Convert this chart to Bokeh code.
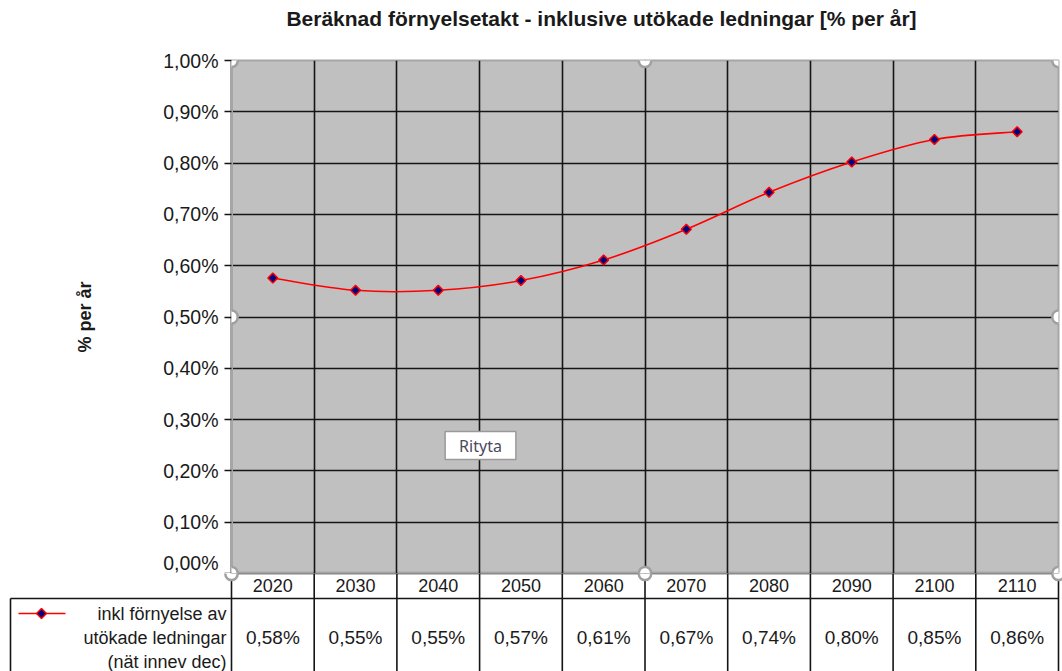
import numpy as np
from bokeh.plotting import figure
from bokeh.models import Range1d, FixedTicker, Grid, Label, CustomJSTickFormatter
from bokeh.layouts import column
from bokeh.embed import file_html
from bokeh.resources import INLINE
from bokeh.core.properties import value

# ---------------- data ----------------
years = [2020, 2030, 2040, 2050, 2060, 2070, 2080, 2090, 2100, 2110]
rate = [0.576, 0.552, 0.552, 0.571, 0.611, 0.671, 0.743, 0.802, 0.846, 0.861]
y_ticks = [0.0, 0.1, 0.2, 0.3, 0.4, 0.5, 0.6, 0.7, 0.8, 0.9, 1.0]
y_tick_labels = ["0,00%", "0,10%", "0,20%", "0,30%", "0,40%", "0,50%",
                 "0,60%", "0,70%", "0,80%", "0,90%", "1,00%"]
year_labels = [str(y) for y in years]
table_labels = [f"{v:.2f}".replace(".", ",") + "%" for v in rate]
series_lines = ["inkl förnyelse av", "utökade ledningar", "(nät innev dec)"]
title_text = "Beräknad förnyelsetakt - inklusive utökade ledningar [% per år]"
y_label = "% per år"

FONT = "Liberation Sans"
TXT = "#1a1a1a"
LINE = "#151515"

# ---------------- geometry ----------------
W = 1062
H0 = 40          # title strip
H1 = 533         # chart (frame top at 20 inside this figure)
H2 = 98          # data table
LEFT = 231
RIGHT = 4
TOP = 20
FRAME_W = W - LEFT - RIGHT
FRAME_H = H1 - TOP

x_start = years[0] - 5
x_end = years[-1] + 5
x_mid = (x_start + x_end) / 2
bounds = [y - 5 for y in years] + [x_end]
xpp = (x_end - x_start) / FRAME_W      # data units per pixel (x)
t_start = x_start - LEFT * xpp
t_end = x_end + RIGHT * xpp


def tx(px):
    return t_start + px * xpp


def bare(fig):
    fig.frame_align = False
    fig.outline_line_color = None
    fig.background_fill_color = "white"
    fig.border_fill_color = "white"
    for g in fig.grid:
        g.visible = False


# ---------------- title strip ----------------
h = figure(width=W, height=H0, x_range=Range1d(t_start, t_end), y_range=Range1d(H0, 0),
           x_axis_location=None, y_axis_location=None,
           output_backend="svg", toolbar_location=None,
           min_border=0, min_border_left=0, min_border_right=0, min_border_top=0, min_border_bottom=0)
bare(h)
h.text(x=[tx(601)], y=[18], text=[title_text], text_align="center", text_baseline="middle",
       text_font=value(FONT), text_font_size="21px", text_font_style="bold", text_color=TXT)

# ---------------- chart figure ----------------
p = figure(width=W, height=H1, x_range=Range1d(x_start, x_end), y_range=Range1d(0, 1.0),
           x_axis_location=None, y_axis_location="left",
           output_backend="svg", toolbar_location=None,
           min_border_left=LEFT, min_border_top=TOP, min_border_bottom=0, min_border_right=RIGHT)
p.frame_align = False
p.background_fill_color = "#c0c0c0"
p.border_fill_color = "white"
p.outline_line_color = "#a6a6a6"
p.outline_line_width = 2
for g in p.grid:
    g.visible = False

p.add_layout(Grid(dimension=1, ticker=FixedTicker(ticks=y_ticks[:-1]),
                  grid_line_color=LINE, grid_line_width=1.6))
p.add_layout(Grid(dimension=0, ticker=FixedTicker(ticks=bounds[1:-1]),
                  grid_line_color=LINE, grid_line_width=1.6))

ax = p.yaxis[0]
ax.ticker = FixedTicker(ticks=y_ticks)
ax.formatter = CustomJSTickFormatter(args=dict(tk=y_ticks, lb=y_tick_labels), code="""
    let best = 0;
    for (let i = 0; i < tk.length; i++) {
        if (Math.abs(tk[i] - tick) < Math.abs(tk[best] - tick)) best = i;
    }
    return lb[best];
""")
ax.minor_tick_line_color = None
ax.major_tick_in = 0
ax.major_tick_out = 7
ax.major_tick_line_color = LINE
ax.major_tick_line_width = 1.6
ax.axis_line_color = "#a6a6a6"
ax.axis_line_width = 3
ax.major_label_text_font = FONT
ax.major_label_text_font_size = "19.5px"
ax.major_label_text_color = TXT
ax.major_label_standoff = 6
ax.axis_label = y_label
ax.axis_label_text_font = FONT
ax.axis_label_text_font_size = "18px"
ax.axis_label_text_font_style = "bold"
ax.axis_label_text_color = TXT
ax.axis_label_standoff = 65

# smoothed line (Bezier segments through the data points)
xs = np.array(years, dtype=float)
ys = np.array(rate, dtype=float)
xp = np.concatenate([[xs[0]], xs, [xs[-1]]])
yp = np.concatenate([[ys[0]], ys, [ys[-1]]])
n = len(xs)
cx0 = [xs[i] + (xp[i + 2] - xp[i]) / 6 for i in range(n - 1)]
cy0 = [ys[i] + (yp[i + 2] - yp[i]) / 6 for i in range(n - 1)]
cx1 = [xs[i + 1] - (xp[i + 3] - xp[i + 1]) / 6 for i in range(n - 1)]
cy1 = [ys[i + 1] - (yp[i + 3] - yp[i + 1]) / 6 for i in range(n - 1)]
p.bezier(x0=xs[:-1], y0=ys[:-1], x1=xs[1:], y1=ys[1:], cx0=cx0, cy0=cy0, cx1=cx1, cy1=cy1,
         line_color="#ff0000", line_width=1.6)
p.scatter(years, rate, marker="square", angle=np.pi / 4, size=7,
          fill_color="#000080", line_color="#ff0000", line_width=1.5)

# "Rityta" tooltip box with shadow
ypp = 1.0 / FRAME_H
rx, ry = x_start + (480 - LEFT) * xpp, (573 - 445) * ypp
p.add_layout(Label(x=rx + 4 * xpp, y=ry - 4 * ypp, text="Rityta", text_align="center",
                   text_baseline="middle", text_font="Noto Sans", text_font_size="16px",
                   text_alpha=0, background_fill_color="#7a7a7a", background_fill_alpha=0.55,
                   padding=(14, 3)))
p.add_layout(Label(x=rx, y=ry, text="Rityta", text_align="center", text_baseline="middle",
                   text_font="Noto Sans", text_font_size="16px", text_color="#4a4a5e",
                   background_fill_color="white", border_line_color="#9a9a9a",
                   border_line_width=1.5, padding=(14, 3)))


def handle(fig, x, y):
    fig.add_layout(Label(x=x, y=y, text=" ", text_font_size="1px", text_align="center",
                         text_baseline="middle", background_fill_color="white",
                         border_line_color="#a0a0a0", border_line_width=2.5,
                         padding=6, border_radius=7))


for hx, hy in [(x_start, 1.0), (x_mid, 1.0), (x_end, 1.0), (x_start, 0.5), (x_end, 0.5),
               (x_start, 0.0), (x_mid, 0.0), (x_end, 0.0)]:
    handle(p, hx, hy)

# ---------------- data table figure ----------------
t = figure(width=W, height=H2, x_range=Range1d(t_start, t_end), y_range=Range1d(H2, 0),
           x_axis_location=None, y_axis_location=None,
           output_backend="svg", toolbar_location=None,
           min_border=0, min_border_left=0, min_border_right=0, min_border_top=0, min_border_bottom=0)
bare(t)

legend_left = tx(10)
row_y = 25
# table lines
t.segment(x0=bounds, y0=[0] * len(bounds), x1=bounds, y1=[H2] * len(bounds),
          line_color=LINE, line_width=1.6)
t.segment(x0=[x_start, legend_left, legend_left], y0=[0, row_y, row_y],
          x1=[x_end, x_end, legend_left], y1=[0, row_y, H2],
          line_color=LINE, line_width=1.6)

# header (categories) and values
t.text(x=years, y=[12] * n, text=year_labels, text_align="center", text_baseline="middle",
       text_font=value(FONT), text_font_size="18px", text_color=TXT)
t.text(x=years, y=[64] * n, text=table_labels, text_align="center", text_baseline="middle",
       text_font=value(FONT), text_font_size="19px", text_color=TXT)

# legend key
t.line(x=[tx(18), tx(65)], y=[40, 40], line_color="#ff0000", line_width=1.6)
t.scatter(x=[tx(41)], y=[40], marker="square", angle=np.pi / 4, size=7,
          fill_color="#000080", line_color="#ff0000", line_width=1.5)
t.text(x=[tx(226)] * 3, y=[40, 64, 88], text=series_lines, text_align="right",
       text_baseline="middle", text_font=value(FONT), text_font_size="18px", text_color=TXT)

for hx in [x_start, x_mid, x_end]:
    handle(t, hx, 0)

page = column(h, p, t, spacing=0)
open("out.html", "w").write(file_html(page, INLINE))
